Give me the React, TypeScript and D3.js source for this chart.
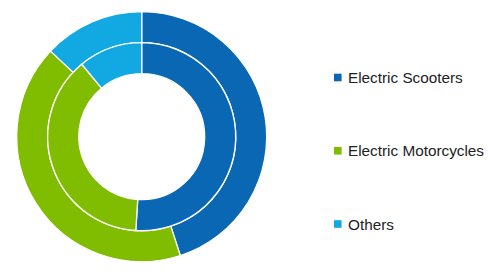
import React from "react";
import * as d3 from "d3";

const categories = ["Electric Scooters", "Electric Motorcycles", "Others"];
const innerValues = [51, 38, 11];
const outerValues = [45, 42, 13];
const colors = ["#0a67b3", "#80bc00", "#12a9e3"];

const W = 494;
const H = 277;
const cx = 141.7;
const cy = 136.7;
const rHole = 63;
const rMid = 94;
const rOuter = 125;

export default function App() {
  const pie = d3.pie<number>().sort(null).value((d) => d);
  const innerArc = d3.arc<d3.PieArcDatum<number>>().innerRadius(rHole).outerRadius(rMid);
  const outerArc = d3.arc<d3.PieArcDatum<number>>().innerRadius(rMid).outerRadius(rOuter);
  const innerPie = pie(innerValues);
  const outerPie = pie(outerValues);
  const legendY = d3.scalePoint<string>().domain(categories).range([77.5, 224]);

  return (
    <svg
      width={W}
      height={H}
      style={{ position: "absolute", left: 0, top: 0 }}
      fontFamily="'Liberation Sans', Arial, sans-serif"
    >
      <rect width={W} height={H} fill="#fff" />
      <g transform={`translate(${cx},${cy})`}>
        {outerPie.map((d, i) => (
          <path key={"o" + i} d={outerArc(d) || ""} fill={colors[i]} stroke="#fff" strokeWidth={1.3} />
        ))}
        {innerPie.map((d, i) => (
          <path key={"i" + i} d={innerArc(d) || ""} fill={colors[i]} stroke="#fff" strokeWidth={1.3} />
        ))}
      </g>
      {categories.map((c, i) => (
        <g key={c} transform={`translate(334,${legendY(c)})`}>
          <rect x={0} y={-3.8} width={7.6} height={7.6} fill={colors[i]} />
          <text x={14} y={5.5} fontSize={15.3} fill="#222">
            {c}
          </text>
        </g>
      ))}
    </svg>
  );
}
